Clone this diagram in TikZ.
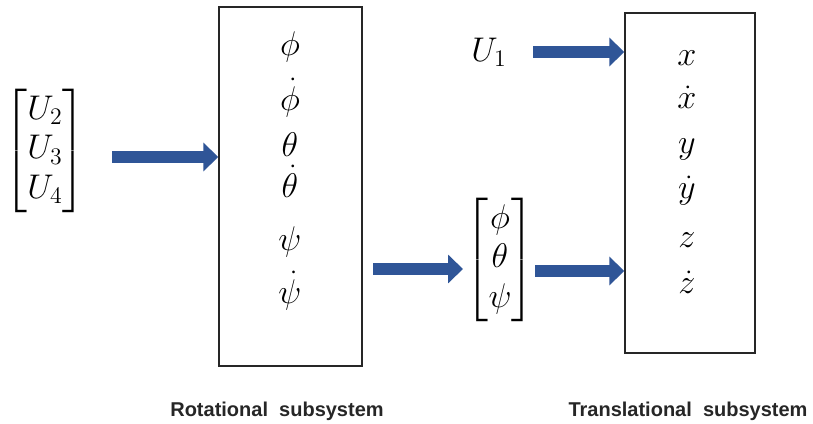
\documentclass[tikz,border=0pt]{standalone}
\usepackage{amsmath}
\usepackage{fontspec}
\newfontfamily\labelfont{Liberation Sans}
\usetikzlibrary{arrows.meta}
\definecolor{arrowblue}{RGB}{47,85,151}
\tikzset{
  sysbox/.style={draw=black!85, line width=1.4pt, rectangle, inner sep=0pt},
  sym/.style={inner sep=0pt, anchor=base, font=\fontsize{20}{24}\selectfont, scale=1.65, transform shape},
  vec/.style={inner sep=0pt, font=\fontsize{20}{24}\selectfont, scale=1.65, transform shape},
  bigarrow/.style={draw=arrowblue, line width=12pt, -{Triangle[length=15pt,width=28pt]}},
  caption/.style={inner sep=0pt, anchor=base, font=\labelfont\bfseries\fontsize{20}{24}\selectfont, text=black!85}
}
\begin{document}
\begin{tikzpicture}[x=1pt,y=-1pt]
\useasboundingbox (0,0) rectangle (813,423);
% boxes
\node[sysbox, minimum width=143pt, minimum height=359pt] (rot) at (290.5,186.5) {};
\node[sysbox, minimum width=130pt, minimum height=340pt] (trans) at (690,183) {};
% rotational states
\node[sym] (phi) at (290,55) {$\phi$};
\node[sym] (phid) at (290,110) {$\dot{\phi}$};
\node[sym] (th) at (290,156) {$\theta$};
\node[sym] (thd) at (290,197) {$\dot{\theta}$};
\node[sym] (psi) at (290,250) {$\psi$};
\node[sym] (psid) at (290,303) {$\dot{\psi}$};
% translational states
\node[sym] (x) at (687,65) {$x$};
\node[sym] (xd) at (687,108) {$\dot{x}$};
\node[sym] (y) at (687,153) {$y$};
\node[sym] (yd) at (687,198) {$\dot{y}$};
\node[sym] (z) at (687,247) {$z$};
\node[sym] (zd) at (687,293) {$\dot{z}$};
% inputs
\node[vec] (uvec) at (45,151) {$\begin{bmatrix}U_2\\U_3\\U_4\end{bmatrix}$};
\node[vec] (u1) at (489,52) {$U_1$};
\node[vec] (avec) at (500,260) {$\begin{bmatrix}\phi\\\theta\\\psi\end{bmatrix}$};
% arrows
\draw[bigarrow] (112,157) -- (rot.west |- 0,157);
\coordinate (a2s) at (373,269);
\coordinate (a2e) at (463,269);
\draw[bigarrow] (a2s) -- (a2e);
\draw[bigarrow] (535,271) -- (trans.west |- 0,271);
\draw[bigarrow] (533,52) -- (trans.west |- 0,52);
% captions
\node[caption] (rotlab) at (277,416) {Rotational\ \ subsystem};
\node[caption] (translab) at (688,416) {Translational\ \ subsystem};
\end{tikzpicture}
\end{document}
